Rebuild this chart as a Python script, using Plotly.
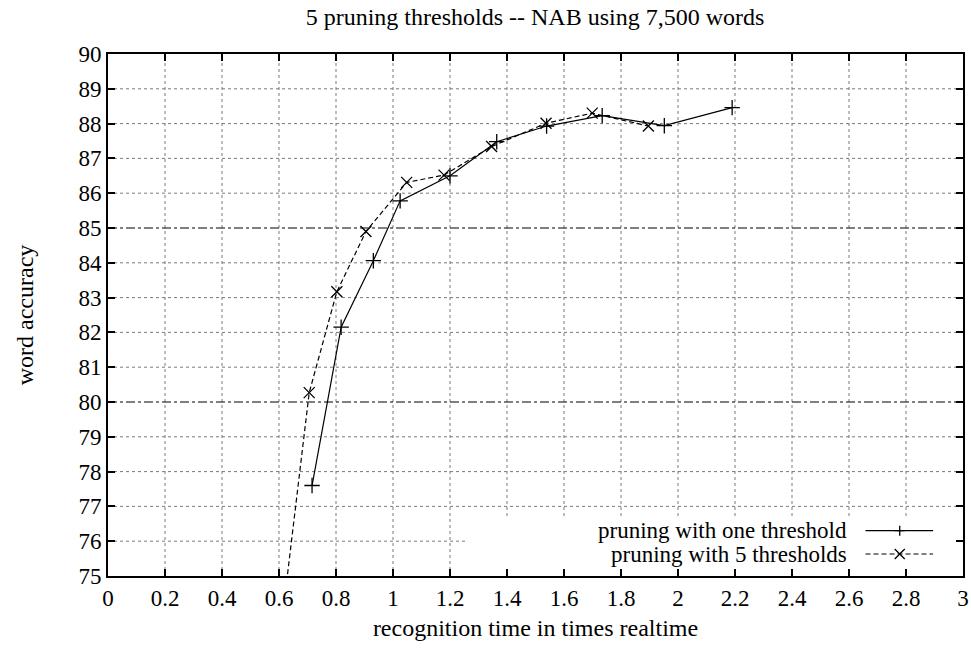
import plotly.graph_objects as go

# ---- data ----
one_x = [0.716, 0.818, 0.931, 1.025, 1.20, 1.364, 1.539, 1.734, 1.952, 2.19]
one_y = [77.6, 82.15, 84.06, 85.78, 86.5, 87.48, 87.93, 88.23, 87.94, 88.46]

five_x = [0.60, 0.706, 0.803, 0.905, 1.048, 1.179, 1.346, 1.537, 1.699, 1.896]
five_y = [73.0, 80.27, 83.17, 84.9, 86.31, 86.52, 87.34, 88.01, 88.30, 87.93]

ref_lines = [80, 85]
x_ticks = [0, 0.2, 0.4, 0.6, 0.8, 1, 1.2, 1.4, 1.6, 1.8, 2, 2.2, 2.4, 2.6, 2.8, 3]
x_tick_text = ["0", "0.2", "0.4", "0.6", "0.8", "1", "1.2", "1.4", "1.6", "1.8", "2", "2.2", "2.4", "2.6", "2.8", "3"]
y_ticks = list(range(75, 91))

legend_names = ["pruning with one threshold", "pruning with 5 thresholds"]
title = "5 pruning thresholds -- NAB using 7,500 words"

FONT = "Liberation Serif, Times New Roman, serif"
FS = 23
FT = 24

fig = go.Figure()

fig.add_trace(go.Scatter(
    x=one_x, y=one_y, mode="lines+markers", showlegend=False,
    line=dict(color="black", width=1.2),
    marker=dict(symbol="cross-thin", size=11, line=dict(color="black", width=1.3)),
))
fig.add_trace(go.Scatter(
    x=five_x, y=five_y, mode="lines+markers", showlegend=False,
    line=dict(color="black", width=1.2, dash="5px,3px"),
    marker=dict(symbol="x-thin", size=11, line=dict(color="black", width=1.3)),
))

GRID = dict(color="#7a7a7a", width=1, dash="dot")
shapes = []
# grid lines drawn as shapes so the legend box can mask them
for xv in x_ticks[1:-1]:
    shapes.append(dict(type="line", xref="x", yref="y domain", x0=xv, x1=xv, y0=0, y1=1,
                       line=GRID, layer="below"))
for yv in y_ticks[1:-1]:
    if yv in ref_lines:
        continue
    shapes.append(dict(type="line", xref="x domain", yref="y", x0=0, x1=1, y0=yv, y1=yv,
                       line=GRID, layer="below"))
for r in ref_lines:
    shapes.append(dict(type="line", xref="x domain", yref="y", x0=0, x1=1, y0=r, y1=r,
                       line=dict(color="black", width=1, dash="dashdot"), layer="below"))
shapes.append(dict(type="rect", xref="x domain", yref="y domain", x0=0.421, x1=1.0, y0=0.0, y1=0.113,
                   fillcolor="white", line=dict(width=0), layer="below"))

# ---- manual legend (text left, sample right) ----
leg_y = [0.0868, 0.0421]
sample_x0, sample_x1, sample_xm = 0.886, 0.965, 0.926
styles = [dict(dash="solid"), dict(dash="5px,3px")]
marker_paths = ["M-5,0 L5,0 M0,-5 L0,5", "M-5,-5 L5,5 M-5,5 L5,-5"]

for i, name in enumerate(legend_names):
    fig.add_annotation(x=0.867, y=leg_y[i], xref="x domain", yref="y domain", text=name,
                       showarrow=False, xanchor="right", yanchor="middle",
                       font=dict(family=FONT, size=FS, color="black"))
    shapes.append(dict(type="line", xref="x domain", yref="y domain",
                       x0=sample_x0, x1=sample_x1, y0=leg_y[i], y1=leg_y[i],
                       line=dict(color="black", width=1.2, **styles[i]), layer="above"))
    shapes.append(dict(type="path", xref="x domain", yref="y domain",
                       xsizemode="pixel", ysizemode="pixel",
                       xanchor=sample_xm, yanchor=leg_y[i], path=marker_paths[i],
                       line=dict(color="black", width=1.3), layer="above"))

axis_common = dict(
    showline=True, linecolor="black", linewidth=2, mirror="ticks",
    ticks="inside", ticklen=7, tickwidth=1.5, tickcolor="black",
    showgrid=False, zeroline=False, automargin=False,
    tickfont=dict(family=FONT, size=FS, color="black"),
)

fig.update_layout(
    width=971, height=650,
    margin=dict(l=108, r=8, t=54, b=74),
    paper_bgcolor="white", plot_bgcolor="white",
    title=dict(text=title, x=0.551, xanchor="center", y=0.975, yanchor="middle",
               font=dict(family=FONT, size=FT, color="black")),
    xaxis=dict(range=[0, 3], tickvals=x_ticks, ticktext=x_tick_text,
               title=dict(text="recognition time in times realtime", standoff=10,
                          font=dict(family=FONT, size=FT, color="black")),
               **axis_common),
    yaxis=dict(range=[75, 90], tickvals=y_ticks,
               title=dict(text="word accuracy", standoff=38,
                          font=dict(family=FONT, size=FT, color="black")),
               **axis_common),
    shapes=shapes,
)

fig.write_html("out.html")
